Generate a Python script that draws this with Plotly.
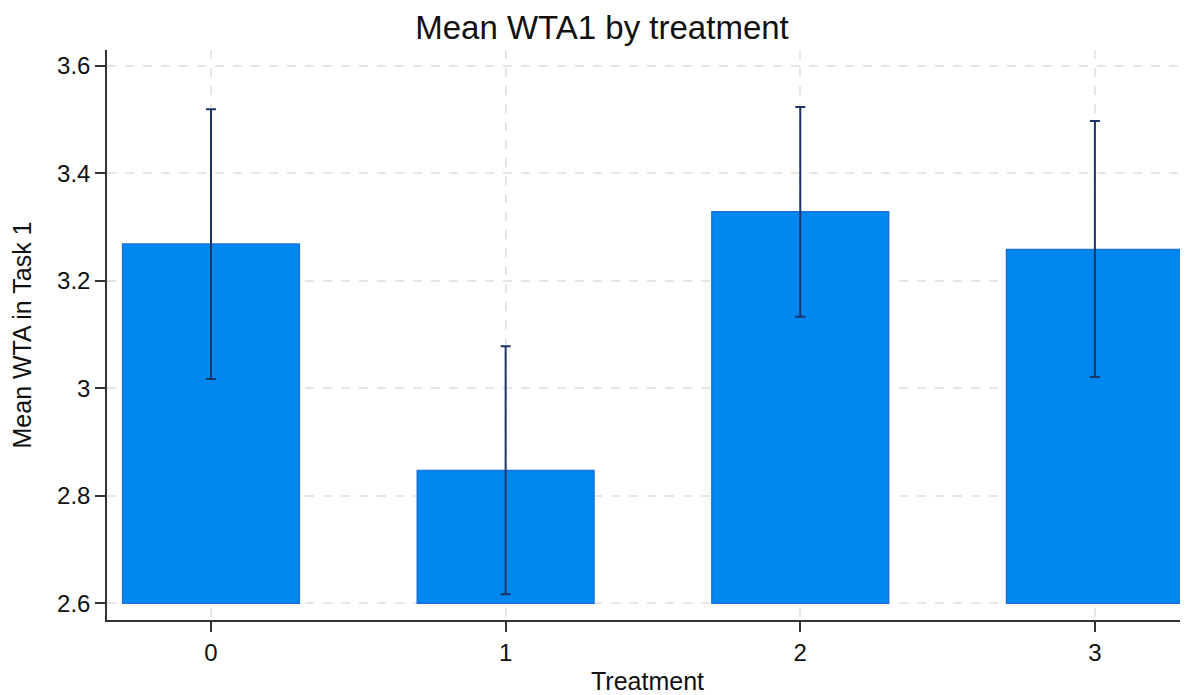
import plotly.graph_objects as go

treatments = [0, 1, 2, 3]
means = [3.268, 2.847, 3.328, 3.258]
ci_upper = [3.519, 3.078, 3.523, 3.497]
ci_lower = [3.017, 2.617, 3.133, 3.021]
base_value = 2.6
y_ticks = [2.6, 2.8, 3.0, 3.2, 3.4, 3.6]
y_ticklabels = ["2.6", "2.8", "3", "3.2", "3.4", "3.6"]

heights = [m - base_value for m in means]
err_plus = [u - m for u, m in zip(ci_upper, means)]
err_minus = [m - l for m, l in zip(means, ci_lower)]

fig = go.Figure()
fig.add_trace(go.Bar(
    x=treatments, y=heights, base=base_value, width=0.6,
    marker=dict(color="#0087F0", line=dict(color="#1A72D9", width=1.5)),
    error_y=dict(type="data", symmetric=False, array=err_plus, arrayminus=err_minus,
                 color="#1C3566", thickness=2, width=5),
    showlegend=False,
))

font = "Liberation Sans, Arial, sans-serif"
fig.update_layout(
    width=1188, height=695,
    margin=dict(l=99, r=8, t=42, b=83, autoexpand=False),
    paper_bgcolor="white", plot_bgcolor="white",
    font=dict(family=font, color="#111111"),
    title=dict(text="Mean WTA1 by treatment", x=0.5, xanchor="center", y=0.972, yanchor="middle",
               font=dict(size=33, family=font, color="#111111")),
    xaxis=dict(
        range=[-0.353, 3.316], tickvals=treatments, ticktext=[str(t) for t in treatments],
        showline=True, linecolor="#333333", linewidth=1.5, mirror=False,
        ticks="outside", ticklen=10, tickwidth=1.5, tickcolor="#333333",
        tickfont=dict(size=24), showgrid=True, gridcolor="#E6E6E6", griddash="dash", gridwidth=1.5,
        zeroline=False, automargin=False,
        title=dict(text="Treatment", font=dict(size=25), standoff=8),
    ),
    yaxis=dict(
        range=[2.569, 3.629], tickvals=y_ticks, ticktext=y_ticklabels,
        showline=True, linecolor="#333333", linewidth=1.5,
        ticks="outside", ticklen=10, tickwidth=1.5, tickcolor="#333333",
        tickfont=dict(size=24), showgrid=True, gridcolor="#E6E6E6", griddash="dash", gridwidth=1.5,
        zeroline=False, automargin=False,
        title=dict(text="Mean WTA in Task 1", font=dict(size=25), standoff=20),
    ),
)

fig.write_html("out.html")
